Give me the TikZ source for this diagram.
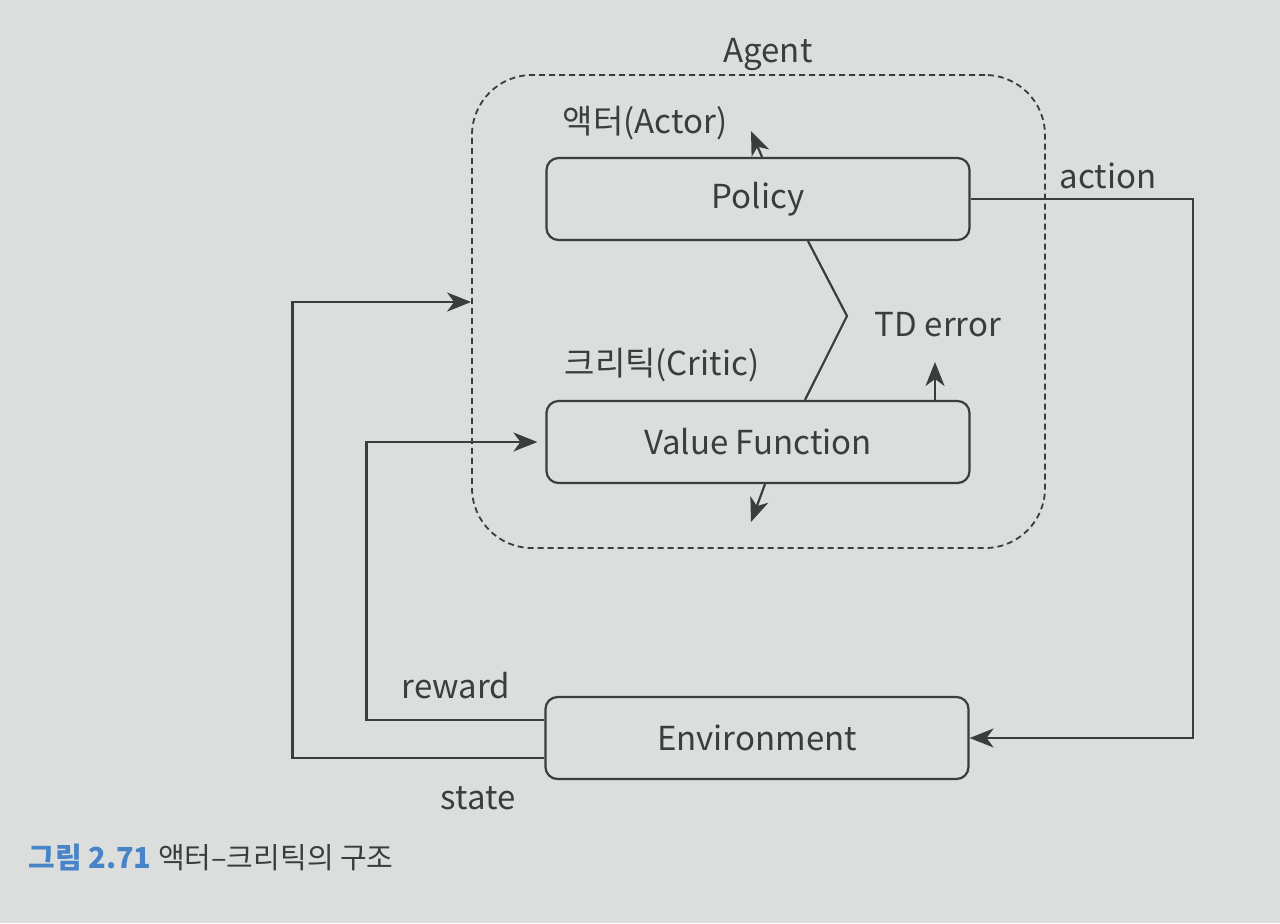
\documentclass[tikz,border=0pt]{standalone}
\usepackage{fontspec}
\setmainfont{Noto Sans CJK KR}
\usetikzlibrary{arrows.meta}
\definecolor{bg}{RGB}{220,222,221}
\definecolor{ink}{RGB}{58,60,62}
\definecolor{capblue}{RGB}{72,132,200}
\begin{document}
\begin{tikzpicture}[x=0.5pt,y=-0.5pt,
  box/.style={draw=ink, line width=1.1pt, rounded corners=6pt, minimum width=211.5pt, minimum height=41pt, inner sep=0pt, font=\fontsize{16.5}{19}\selectfont, text=ink},
  lbl/.style={font=\fontsize{16.5}{19}\selectfont, text=ink, inner sep=0pt},
  conn/.style={draw=ink, line width=1.1pt},
  arr/.style={conn, -{Stealth[length=12pt,width=9.5pt,inset=3.5pt]}},
  agentbox/.style={draw=ink, line width=0.9pt, dash pattern=on 3pt off 2pt, rounded corners=30pt, minimum width=286.5pt, minimum height=236.5pt, inner sep=0pt}]
\fill[bg] (0,0) rectangle (1280,923);
\useasboundingbox (0,0) rectangle (1280,923);

\node[agentbox] (agent) at (758.5,311.5) {};
\node[lbl] (agentlbl) at (768,55) {Agent};

\node[box] (policy) at (758,199) {Policy};
\node[box] (vf) at (758,442) {Value Function};
\node[box] (env) at (757,738) {Environment};

\node[lbl] (actor) at (645,123) {액터(Actor)};
\node[lbl] (critic) at (662,365) {크리틱(Critic)};
\node[lbl] (td) at (938,325) {TD error};
\node[lbl] (action) at (1108,176) {action};
\node[lbl] (reward) at (456,686) {reward};
\node[lbl] (state) at (478,798) {state};

\coordinate (actTip) at (751,131);
\coordinate (zig) at (847,316);
\coordinate (tdTip) at (935,362);
\coordinate (vfTip) at (751,522);

\draw[arr] ([xshift=2pt]policy.north) -- (actTip);
\draw[conn] ([xshift=25pt]policy.south) -- (zig) -- ([xshift=23.5pt]vf.north);
\draw[arr] ([xshift=88.5pt]vf.north) -- (tdTip);
\draw[arr] ([xshift=3.5pt]vf.south) -- (vfTip);

\draw[arr] (policy.east) -- ++(111.25pt,0) |- (env.east);
\draw[arr, shorten >=4pt] ([yshift=9pt]env.west) -- ++(-89pt,0) |- (vf.west);
\draw[arr] ([yshift=-10pt]env.west) -- ++(-126pt,0) |- ([yshift=4.75pt]agent.west);

\node[anchor=base west, inner sep=0pt, font=\fontsize{14.5}{17}\selectfont, text=ink] (cap) at (28,868) {\textcolor{capblue}{\bfseries 그림 2.71} 액터–크리틱의 구조};
\end{tikzpicture}
\end{document}
